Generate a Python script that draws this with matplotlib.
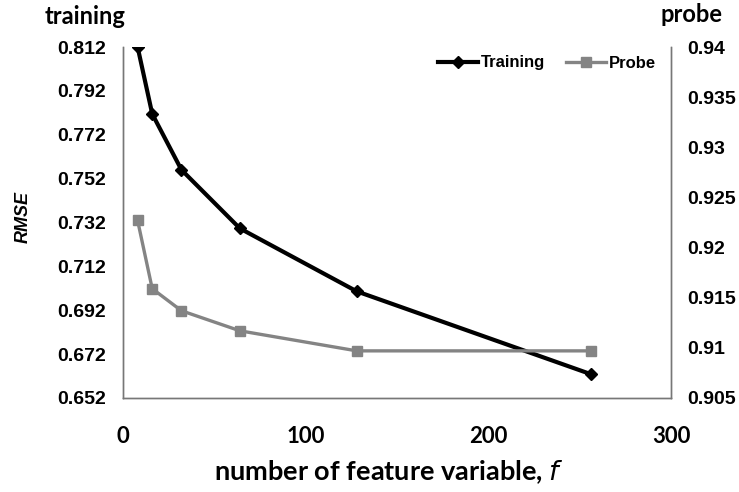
import matplotlib.pyplot as plt

# data
features = [8, 16, 32, 64, 128, 256]
training_rmse = [0.812, 0.7815, 0.756, 0.7293, 0.7006, 0.6629]
probe_rmse = [0.9227, 0.9159, 0.9137, 0.9117, 0.9097, 0.9097]

left_ticks = [0.652, 0.672, 0.692, 0.712, 0.732, 0.752, 0.772, 0.792, 0.812]
right_ticks = [0.905, 0.91, 0.915, 0.92, 0.925, 0.93, 0.935, 0.94]
right_labels = ["0.905", "0.91", "0.915", "0.92", "0.925", "0.93", "0.935", "0.94"]
x_ticks = [0, 100, 200, 300]

tick_font = dict(family="Liberation Sans", weight="bold", size=14)
title_font = dict(family="Lato", weight="bold", size=17)

fig = plt.figure(figsize=(7.39, 4.92), dpi=100)
ax = fig.add_axes([123 / 739, 1 - 398 / 492, (671 - 123) / 739, (398 - 47) / 492])
ax2 = ax.twinx()

l1, = ax.plot(features, training_rmse, color="black", lw=3, marker="D", ms=6,
              label="Training", zorder=3)
l2, = ax2.plot(features, probe_rmse, color="#848484", lw=2.4, marker="s", ms=7,
               label="Probe", zorder=2)

ax.set_xlim(0, 300)
ax.set_ylim(0.652, 0.812)
ax2.set_ylim(0.905, 0.94)

ax.set_xticks(x_ticks)
ax.set_xticklabels([str(t) for t in x_ticks], family="Lato", weight="bold", size=16)
ax.set_yticks(left_ticks)
ax.set_yticklabels([f"{t:.3f}" for t in left_ticks], **tick_font)
ax2.set_yticks(right_ticks)
ax2.set_yticklabels(right_labels, **tick_font)

ax.tick_params(axis="x", length=0, pad=20)
ax.tick_params(axis="y", length=0, pad=12)
ax2.tick_params(axis="y", length=0, pad=12)

for a in (ax, ax2):
    a.spines["top"].set_visible(False)
    for s in ("left", "right", "bottom"):
        a.spines[s].set_color("#777777")
        a.spines[s].set_linewidth(1)
        a.spines[s].set_linestyle((0, (1, 1)))

fig.text(85 / 739, 1 - 17 / 492, "training", ha="center", va="center", **title_font)
fig.text(691 / 739, 1 - 15 / 492, "probe", ha="center", va="center", **title_font)
fig.text(389 / 739, 1 - 472 / 492, "number of feature variable, $\\mathit{f}$",
         ha="center", va="center", family="Lato", weight="bold", size=19.5)
fig.text(23 / 739, 1 - 217 / 492, "RMSE", rotation=90, ha="center", va="center",
         family="Liberation Sans", weight="bold", style="italic", size=13)

fig.legend(handles=[l1, l2], loc="center", bbox_to_anchor=(547 / 739, 1 - 63 / 492),
           ncol=2, frameon=False, handlelength=2.4, handletextpad=0.2,
           columnspacing=1.2, prop=dict(family="Liberation Sans", weight="bold", size=12))

fig.savefig("out.png", dpi=100)
